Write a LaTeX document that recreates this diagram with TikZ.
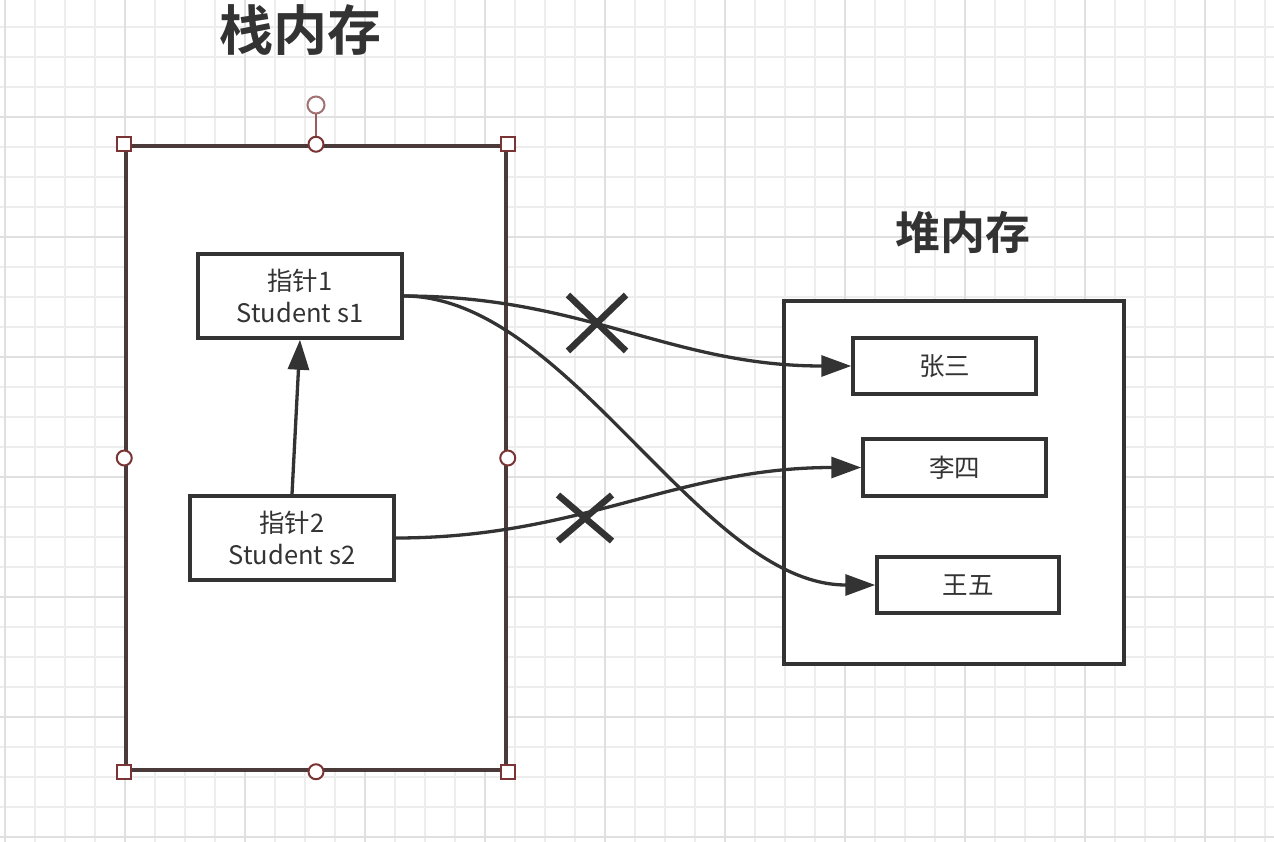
\documentclass[tikz,border=0pt]{standalone}
\usepackage{fontspec}
\setmainfont{Noto Sans CJK SC}[BoldFont={Noto Sans CJK SC Bold}]
\usetikzlibrary{arrows.meta}
\definecolor{ink}{HTML}{333333}
\definecolor{handle}{HTML}{7A3434}
\definecolor{selframe}{HTML}{4A3A3A}
\definecolor{gridminor}{HTML}{EDEDED}
\definecolor{gridmajor}{HTML}{E0E0E0}
\tikzset{
  box/.style={draw=ink, line width=3.5pt, fill=white, inner sep=0pt, align=center,
    font=\fontsize{25.5}{32}\selectfont, text=ink},
  conn/.style={draw=ink, line width=3.3pt, -{Triangle[length=30pt,width=21pt]}},
  cross/.style={draw=ink, line width=6.5pt},
  title/.style={font=\bfseries, text=ink},
  sqhandle/.style={draw=handle, line width=2pt, fill=white, minimum size=14pt, inner sep=0pt},
  cirhandle/.style={draw=handle, line width=2pt, fill=white, circle, minimum size=15pt, inner sep=0pt},
}
\begin{document}
\begin{tikzpicture}[x=1pt,y=-1pt]
\useasboundingbox (0,0) rectangle (1274,842);
\fill[white] (0,0) rectangle (1274,842);
% grid
\foreach \gx in {5,35,...,1274} \draw[gridminor, line width=1.6pt] (\gx,0) -- (\gx,842);
\foreach \gy in {27,57,...,842} \draw[gridminor, line width=1.6pt] (0,\gy) -- (1274,\gy);
\foreach \gx in {5,125,...,1274} \draw[gridmajor, line width=1.6pt] (\gx,0) -- (\gx,842);
\foreach \gy in {117,237,...,842} \draw[gridmajor, line width=1.6pt] (0,\gy) -- (1274,\gy);

% titles
\node[title, font=\fontsize{54}{60}\selectfont\bfseries] (stacktitle) at (300,30) {栈内存};
\node[title, font=\fontsize{45}{50}\selectfont\bfseries] (heaptitle) at (963,232) {堆内存};

% stack frame (selected)
\node[draw=selframe, line width=3.5pt, fill=white, minimum width=380pt, minimum height=624pt, inner sep=0pt] (stack) at (316,458) {};

% heap
\node[box, minimum width=340pt, minimum height=363pt] (heap) at (954,482.5) {};

% pointer boxes
\node[box, minimum width=204pt, minimum height=84pt] (p1) at (300,296) {指针1\\Student s1};
\node[box, minimum width=204pt, minimum height=84pt] (p2) at (292,538) {指针2\\Student s2};

% heap objects
\node[box, minimum width=183pt, minimum height=56pt] (zs) at (944.5,366) {张三};
\node[box, minimum width=183pt, minimum height=57pt] (ls) at (954.5,467.5) {李四};
\node[box, minimum width=182pt, minimum height=56pt] (ww) at (968,585) {王五};

% connectors
\draw[conn] (p1.east) .. controls +(180,0) and +(-180,0) .. (zs.west);
\draw[conn] (p1.east) .. controls +(165,0) and +(-175,0) .. (ww.west);
\draw[conn] (p2.east) .. controls +(185,0) and +(-185,0) .. (ls.west);
\draw[conn] (p2.north) -- (p1.south);

% crosses
\draw[cross] (568,295) -- (626,351);
\draw[cross] (568,351) -- (626,295);
\draw[cross] (558,495) -- (612,541);
\draw[cross] (558,541) -- (612,495);

% selection handles
\node[circle, draw=handle!70, line width=2pt, fill=white, minimum size=17pt, inner sep=0pt] (rot) at (316,105) {};
\draw[handle!80, line width=2pt] (rot.south) -- (stack.north);
\node[sqhandle] (h1) at (stack.north west) {};
\node[sqhandle] (h2) at (stack.north east) {};
\node[sqhandle] (h3) at (stack.south west) {};
\node[sqhandle] (h4) at (stack.south east) {};
\node[cirhandle] (h5) at (stack.north) {};
\node[cirhandle] (h6) at (stack.south) {};
\node[cirhandle] (h7) at (stack.west) {};
\node[cirhandle] (h8) at (stack.east) {};
\end{tikzpicture}
\end{document}
